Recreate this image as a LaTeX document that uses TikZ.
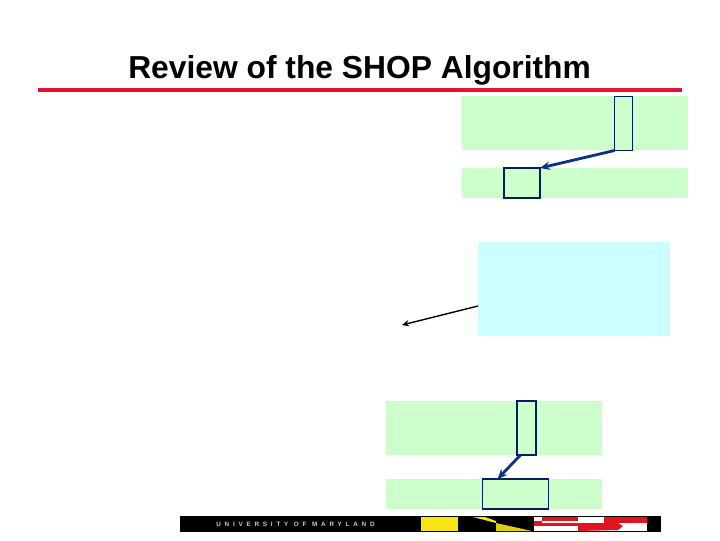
\documentclass[tikz,border=0pt]{standalone}
\usepackage{fontspec}
\setmainfont{Liberation Sans}
\usetikzlibrary{arrows.meta}
\definecolor{panelgreen}{RGB}{204,255,204}
\definecolor{panelcyan}{RGB}{204,255,255}
\definecolor{slidered}{RGB}{227,18,54}
\definecolor{slotblue}{RGB}{0,32,96}
\definecolor{arrowblue}{RGB}{10,50,140}
\definecolor{flagyellow}{RGB}{245,230,20}
\definecolor{flagred}{RGB}{225,20,30}
\tikzset{
    panel/.style={anchor=north west, inner sep=0pt, outer sep=0pt, fill=#1},
    slotbox/.style={anchor=north west, inner sep=0pt, outer sep=0pt, draw=slotblue, line width=0.75pt},
    bluearrow/.style={-{Stealth[length=7pt,width=6pt]}, arrowblue, line width=2pt},
    blackarrow/.style={-{Stealth[length=5pt,width=4.5pt]}, black, line width=1pt},
}

\begin{document}
\begin{tikzpicture}[x=0.025cm, y=-0.025cm]
    \useasboundingbox (0,0) rectangle (720,540);

    \node[anchor=base west, inner sep=0pt] (title) at (128,78) {\fontsize{22.6pt}{25pt}\selectfont\bfseries Review of the SHOP Algorithm};
    \draw[slidered, line width=3pt] (38,90) -- (682,90);

    % panels
    \node[panel=panelgreen, minimum width=5.65cm, minimum height=1.35cm] (topA) at (462,96) {};
    \node[panel=panelgreen, minimum width=5.65cm, minimum height=0.75cm] (topB) at (462,168) {};
    \node[panel=panelcyan, minimum width=4.8cm, minimum height=2.35cm] (mid) at (478,242) {};
    \node[panel=panelgreen, minimum width=5.4cm, minimum height=1.35cm] (lowA) at (386,401) {};
    \node[panel=panelgreen, minimum width=5.4cm, minimum height=0.75cm] (lowB) at (386,479) {};

    % boxes on the panels
    \node[slotbox, minimum width=0.45cm, minimum height=1.35cm] (topAslot) at (614.5,96.5) {};
    \node[slotbox, minimum width=0.9cm, minimum height=0.75cm] (topBslot) at (504,168) {};
    \node[slotbox, minimum width=0.475cm, minimum height=1.35cm] (lowAslot) at (517,401) {};
    \node[slotbox, minimum width=1.65cm, minimum height=0.75cm] (lowBslot) at (482.5,479) {};

    \coordinate (midstart) at (478,306);
    \coordinate (midend) at (402,325);
    \coordinate (lowAout) at ([xshift=-0.15cm]lowAslot.south);
    \coordinate (lowBin) at ([xshift=-0.45cm]lowBslot.north);

    \draw[bluearrow] (topAslot.south west) -- (topBslot.north east);
    \draw[blackarrow] (midstart) -- (midend);
    \draw[bluearrow] (lowAout) -- (lowBin);

    % banner
    \node[panel=black, minimum width=12.025cm, minimum height=0.4cm] (banner) at (180,516) {};
    \node[anchor=west, inner sep=0pt, text=white!80!black] (bannertext) at (216,524)
        {\fontsize{4.5pt}{5pt}\selectfont\bfseries\addfontfeatures{LetterSpace=60}UNIVERSITY OF MARYLAND};
    \fill[flagyellow] (421,517) rectangle (458,531);
    \fill[flagyellow] (473,517) -- (485,517) -- (496,521) -- (496,523) -- cycle;
    \fill[flagyellow!90!black] (496,523) -- (532,531) -- (496,531) -- cycle;
    % red and white quarter
    \fill[white] (534,517) rectangle (647,531);
    \fill[flagred] (542,517) rectangle (578,520.5);
    \fill[flagred] (534,521) rectangle (542,526);
    \fill[flagred] (534,523) rectangle (578,526);
    \fill[flagred] (578,523) -- (618,523) -- (623,526) -- (618,530) -- (578,531) -- cycle;
    \fill[flagred] (604,517) rectangle (647,523);
\end{tikzpicture}
\end{document}
